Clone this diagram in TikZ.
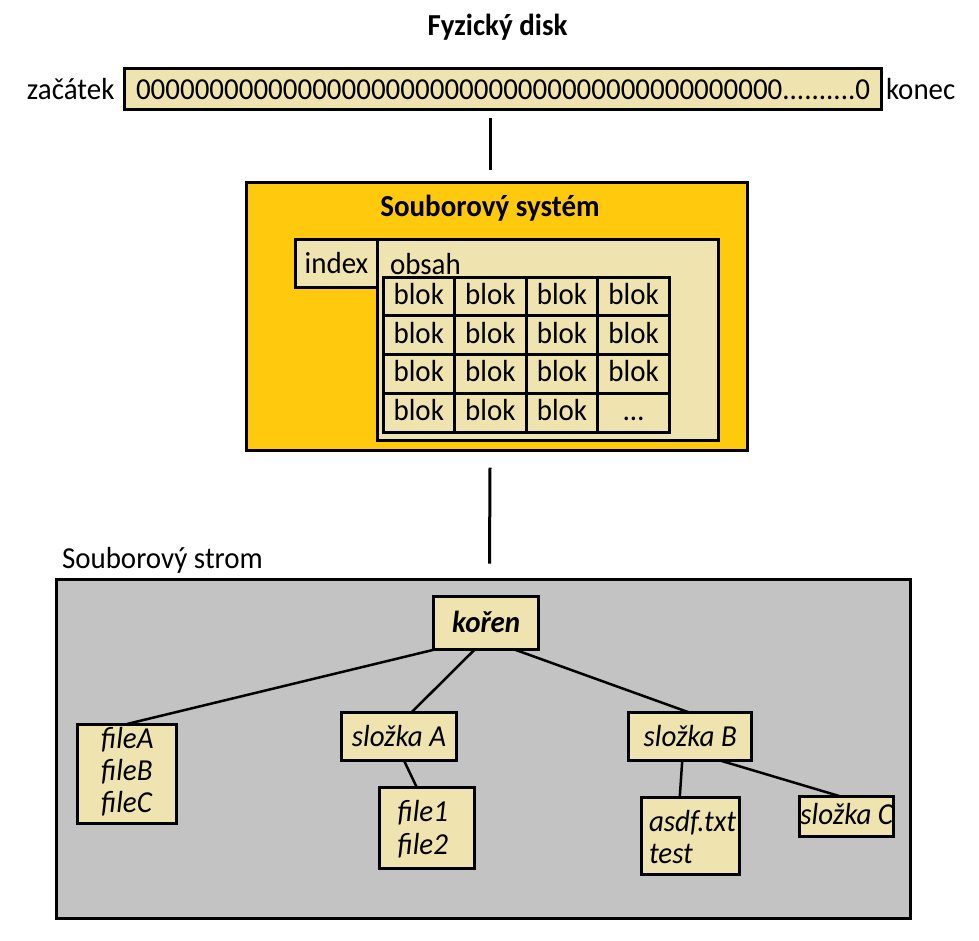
\documentclass[tikz,border=0pt]{standalone}
\usepackage{fontspec}
\setmainfont{Carlito}[FakeStretch=0.95]
\usetikzlibrary{calc}
\definecolor{tanbox}{HTML}{EFE4B0}
\definecolor{goldbox}{HTML}{FFC90E}
\definecolor{graybox}{HTML}{C3C3C3}
\newcommand\fsz{\fontsize{30.5}{32}\selectfont}
\begin{document}
\begin{tikzpicture}[x=1pt,y=-1pt,
  every node/.style={outer sep=0pt},
  box/.style={draw, line width=3pt, fill=tanbox, inner sep=0pt, text height=20pt, text depth=0pt, font=\fsz},
  cell/.style={box, minimum width=71.6, minimum height=38.75, text height=16pt},
  txt/.style={inner sep=0pt, anchor=base west, font=\fsz},
  itxt/.style={txt, font=\fsz\itshape},
  conn/.style={line width=2.5pt},
  vconn/.style={line width=3pt}]
\useasboundingbox (0,0) rectangle (979,940);

% Physical disk
\node[inner sep=0pt, anchor=base, font=\fsz\bfseries] (title) at (497.5,35.7) {Fyzický disk};
\node[box, minimum width=757, minimum height=41] (disk) at (503,89)
  {00000000000000000000000000000000000000000000..........0};
\node[txt] (zac) at (27,99) {začátek};
\node[txt] (kon) at (886,99) {konec};

% File system
\node[draw, line width=3pt, fill=goldbox, minimum width=501, minimum height=268] (fs) at (497,316.5) {};
\node[inner sep=0pt, anchor=base, font=\fsz\bfseries] (fstitle) at (490,216.5) {Souborový systém};
\node[box, minimum width=341, minimum height=200.5] (obsah) at (548,339.75) {};
\node[box, minimum width=82, minimum height=47.5] (index) at (336.5,263.25) {index};
\node[txt] (obsaht) at (390,274) {obsah};
\foreach \r in {1,...,4}{
  \foreach \c in {1,...,4}{
    \pgfmathsetmacro\cx{383+71.6*(\c-0.5)}
    \pgfmathsetmacro\cy{277+38.75*(\r-0.5)}
    \ifnum\r=4 \ifnum\c=4
      \node[cell] (cell-\r-\c) at (\cx,\cy) {…};
    \else
      \node[cell] (cell-\r-\c) at (\cx,\cy) {blok};
    \fi\else
      \node[cell] (cell-\r-\c) at (\cx,\cy) {blok};
    \fi
  }
}

% File tree
\node[draw, line width=3pt, fill=graybox, minimum width=854, minimum height=338.5] (tree) at (483,748.75) {};
\node[txt] (treelbl) at (62,568.3) {Souborový strom};

\node[box, minimum width=105, minimum height=52.7, font=\fsz\bfseries\itshape] (koren) at (486.2,622.7) {kořen};
\node[box, minimum width=115, minimum height=47.7, font=\fsz\itshape] (slozkaA) at (399,736.7) {složka A};
\node[box, minimum width=123, minimum height=47.7, font=\fsz\itshape] (slozkaB) at (690.25,736.7) {složka B};
\node[box, minimum width=94, minimum height=40, text height=16pt, font=\fsz\itshape] (slozkaC) at (846.8,816.2) {složka C};

\node[box, minimum width=99.5, minimum height=99.3] (fileA) at (126.75,773.7) {};
\node[itxt] (fA1) at (101,748.3) {fileA};
\node[itxt] (fA2) at (101,780) {fileB};
\node[itxt] (fA3) at (101,812.3) {fileC};

\node[box, minimum width=95, minimum height=80.2] (file1) at (427,827.9) {};
\node[itxt] (f11) at (397.5,821.7) {file1};
\node[itxt] (f12) at (397.5,854) {file2};

\node[box, minimum width=98, minimum height=76.7] (asdf) at (690.7,836.2) {};
\node[itxt] (as1) at (649,831.7) {asdf.txt};
\node[itxt] (as2) at (649,863.3) {test};

% Connectors
\draw[vconn] ([xshift=-13pt,yshift=-8pt]disk.south) -- ([xshift=-7pt,yshift=13pt]fs.north);
\draw[vconn] ([xshift=-7pt,yshift=-17pt]fs.south) -- ([xshift=6.5pt,yshift=16pt]tree.north);

\draw[conn] ([xshift=3pt]koren.south west) -- (fileA.north);
\draw[conn] ([xshift=-11pt]koren.south) -- ([xshift=12pt]slozkaA.north);
\draw[conn] ([xshift=27pt]koren.south) -- (slozkaB.north);
\draw[conn] ([xshift=5pt]slozkaA.south) -- ([xshift=-10pt]file1.north);
\draw[conn] ([xshift=-8pt]slozkaB.south) -- ([xshift=-11pt]asdf.north);
\draw[conn] ([xshift=30pt]slozkaB.south) -- ([xshift=-7pt]slozkaC.north);
\end{tikzpicture}
\end{document}
